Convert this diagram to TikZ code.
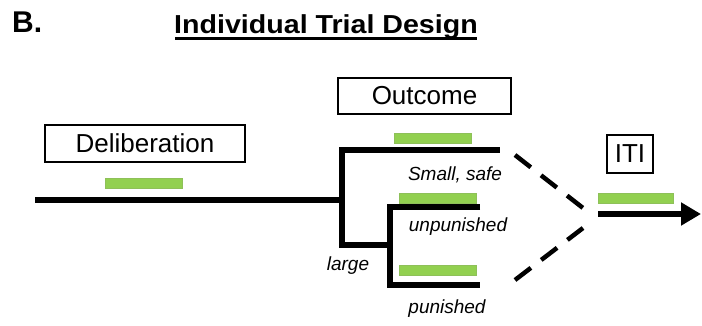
\documentclass[tikz,border=0pt]{standalone}
\usepackage{fontspec}
\setmainfont{Liberation Sans}
\usetikzlibrary{arrows.meta}
\definecolor{bargreen}{HTML}{92D050}
\begin{document}
\begin{tikzpicture}[x=1pt,y=-1pt,
  labelbox/.style={draw,line width=1.8pt,inner sep=0pt,font=\fontsize{26}{30}\selectfont},
  gbar/.style={fill=bargreen,draw=bargreen!80!gray,line width=0.5pt,minimum width=77pt,minimum height=10pt,inner sep=0pt},
  track/.style={line width=5.5pt},
  dashline/.style={line width=4.5pt,dash pattern=on 20pt off 13pt},
  itlabel/.style={font=\fontsize{19}{22}\selectfont\itshape,inner sep=0pt}]
\useasboundingbox (0,0) rectangle (702,325);
% headings
\node[font=\fontsize{30}{34}\selectfont\bfseries,anchor=west,inner sep=0pt] (b) at (12,22) {B.};
\node[font=\fontsize{26}{30}\selectfont\bfseries,inner sep=0pt,anchor=base,xscale=1.1] (title) at (326,33) {Individual Trial Design};
\coordinate (ul1) at (175,38.5);
\coordinate (ul2) at (477,38.5);
\draw[line width=2.5pt] (ul1) -- (ul2);
% boxes
\node[labelbox,minimum width=200pt,minimum height=37pt] (delib) at (145,143.5) {Deliberation};
\node[labelbox,minimum width=173pt,minimum height=36pt] (outcome) at (424.5,96) {Outcome};
\node[labelbox,minimum width=46pt,minimum height=38pt] (iti) at (630,154) {ITI};
% green bars
\node[gbar] (g1) at (143.5,183) {};
\node[gbar] (g2) at (433,138) {};
\node[gbar] (g3) at (437.5,198) {};
\node[gbar] (g4) at (437.5,270) {};
\node[gbar,minimum width=75pt] (g5) at (635.5,198.5) {};
% track coordinates
\coordinate (start) at (35,200);
\coordinate (j1) at (342,200);
\coordinate (j1t) at (342,150);
\coordinate (j1b) at (342,245);
\coordinate (small) at (497,150);
\coordinate (j2) at (390,245);
\coordinate (j2t) at (390,207);
\coordinate (j2b) at (390,285);
\coordinate (unp) at (480,207);
\coordinate (pun) at (480,285);
\coordinate (d1s) at (515,155);
\coordinate (d2s) at (515,280);
\coordinate (d1e) at (583,208);
\coordinate (d2e) at (583,228);
\coordinate (arrs) at (598,214);
\coordinate (arre) at (701,214);
% tracks
\draw[track] (start) -- (j1);
\draw[track,line cap=rect] (small) -- (j1t) -- (j1b) -- (j2);
\draw[track] (unp) -- (j2t) -- (j2b) -- (pun);
\draw[dashline] (d1s) -- (d1e);
\draw[dashline] (d2s) -- (d2e);
\draw[track,-{Triangle[length=20pt,width=22pt]}] (arrs) -- (arre);
% labels
\node[itlabel] (lsmall) at (455,175) {Small, safe};
\node[itlabel] (lunp) at (458,227) {unpunished};
\node[itlabel] (lpun) at (447,309) {punished};
\node[itlabel] (llarge) at (348,266) {large};
\end{tikzpicture}
\end{document}
